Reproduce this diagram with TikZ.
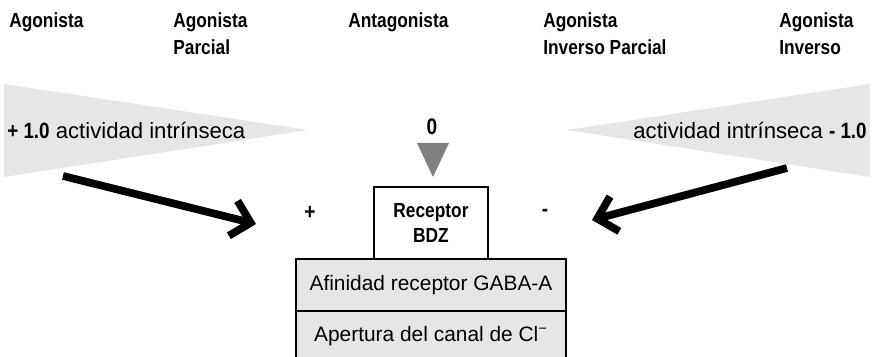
\documentclass[tikz,border=0pt]{standalone}
\usepackage{fontspec}
\setmainfont{Liberation Sans}[BoldFeatures={FakeStretch=0.85}]
\usetikzlibrary{arrows.meta, positioning}
\definecolor{cwedge}{HTML}{E6E6E6}
\definecolor{ctri}{HTML}{808080}
\tikzset{
  every picture/.style={line width=1.5pt},
  head/.style={font=\bfseries\fontsize{11.6}{15.4}\selectfont, align=left, anchor=north west, inner sep=0pt},
  body/.style={font=\fontsize{12.6}{14}\selectfont, inner sep=0pt},
  sign/.style={font=\bfseries\fontsize{12.8}{14}\selectfont, inner sep=0pt},
  recbox/.style={draw, fill=white, align=center, minimum width=2.28cm, minimum height=1.44cm, inner sep=0pt, outer sep=0pt, font=\bfseries\fontsize{11.6}{14.2}\selectfont},
  layer/.style={draw, fill=cwedge, minimum width=5.4cm, minimum height=1.04cm, inner sep=0pt, outer sep=0pt, font=\fontsize{11.9}{14}\selectfont},
  push/.style={-{Straight Barb[length=3.6mm, width=7.2mm]}, line width=4.4pt},
}

\begin{document}
\begin{tikzpicture}[x=0.02cm, y=-0.02cm]
  \useasboundingbox (0,0) rectangle (873,357);
  % headings
  \foreach \n/\x/\t in {ag/8/Agonista, agp/172/{Agonista\\Parcial}, ant/347/Antagonista,
                        aip/542/{Agonista\\Inverso Parcial}, ai/778/{Agonista\\Inverso}}
    \node[head] (\n) at (\x,11) {\t};
  % intrinsic activity wedges
  \fill[cwedge] (4,84) -- (308,130) -- (4,177) -- cycle;
  \fill[cwedge] (870,84) -- (567,130) -- (870,177) -- cycle;
  \node[body, anchor=west] (lact) at (6,130) {\textbf{+ 1.0} actividad intrínseca};
  \node[body, anchor=east] (ract) at (868,130) {actividad intrínseca \textbf{- 1.0}};
  \node[sign] (zero) at (432,127) {0};
  \fill[ctri] (417,143) -- (449,143) -- (433,177) -- cycle;
  % receptor stack
  \node[recbox] (rec) at (431,223) {Receptor\\BDZ};
  \node[layer, below=0pt of rec] (gaba) {Afinidad receptor GABA-A};
  \node[layer, below=0pt of gaba, minimum height=1cm] (cl) {Apertura del canal de Cl\textsuperscript{\textminus}};
  \node[sign] (plus) at (310,213) {+};
  \node[sign] (minus) at (545,213) {-};
  % arrows
  \coordinate (lt) at (63,176); \coordinate (lh) at (256,224);
  \coordinate (rt) at (787,168); \coordinate (rh) at (592,220);
  \draw[push] (lt) -- (lh);
  \draw[push] (rt) -- (rh);
\end{tikzpicture}
\end{document}
